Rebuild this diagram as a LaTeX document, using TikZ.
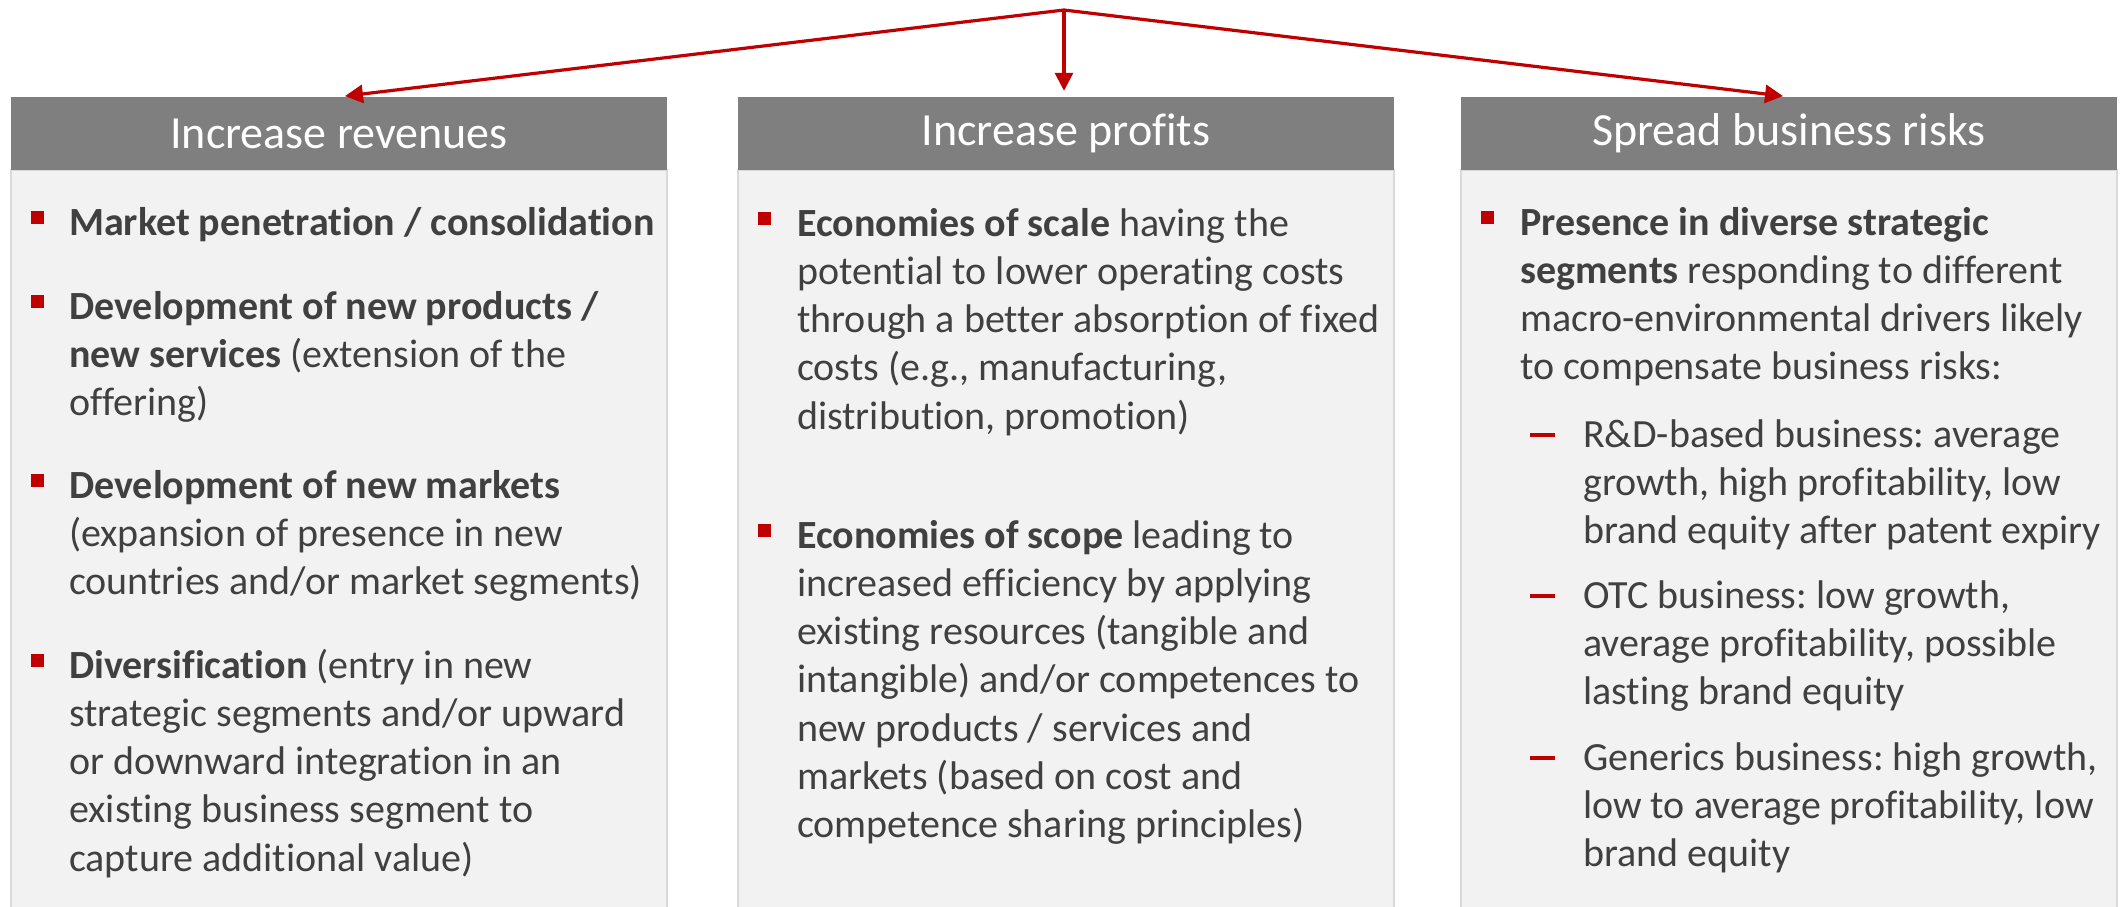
\documentclass[tikz,border=0pt]{standalone}
\usepackage{fontspec}
\setmainfont[Ligatures={NoCommon}]{Carlito}
\usetikzlibrary{arrows.meta}
\definecolor{hdgray}{HTML}{7F7F7F}
\definecolor{bodygray}{HTML}{F2F2F2}
\definecolor{linegray}{HTML}{D9D9D9}
\definecolor{txtgray}{HTML}{404040}
\definecolor{accred}{HTML}{C00000}
\newcommand{\boxtext}[1]{\parbox[t]{640pt}{\raggedright #1}}
\newcommand{\reddash}{\rule[10.5pt]{25pt}{3.5pt}}
\frenchspacing
\begin{document}
\begin{tikzpicture}[x=1pt,y=-1pt,
  header/.style={fill=hdgray,text=white,minimum width=656pt,minimum height=73pt,inner sep=0pt,font=\fontsize{46}{54}\selectfont},
  panel/.style={fill=bodygray,draw=linegray,line width=1.5pt},
  sq/.style={fill=accred,minimum size=13pt,inner sep=0pt},
  item/.style={anchor=base west,inner sep=0pt,text=txtgray,font=\fontsize{40}{48.3}\selectfont},
  arr/.style={draw=accred,line width=3.2pt,-{Triangle[length=18pt,width=18pt]},shorten >=6pt}]
\useasboundingbox (0,0) rectangle (2123,906);
\fill[white] (0,0) rectangle (2123,906);
% panels
\draw[panel] (11,170) rectangle (667,930);
\draw[panel] (738,170) rectangle (1394,930);
\draw[panel] (1461,170) rectangle (2117,930);
% headers
\node[header] (hrev) at (339,133.5) {Increase revenues};
\node[header] (hprof) at (1066,133.5) {Increase profits};
\node[header] (hrisk) at (1789,133.5) {Spread business risks};
% arrows
\coordinate (apex) at (1064,10);
\draw[arr] (apex) -- (hrev.north);
\draw[arr] (apex) -- ([xshift=-2pt]hprof.north);
\draw[arr] (apex) -- (hrisk.north);
% column 1
\node[sq] (b11) at (37.5,217.5) {};
\node[item] (t11) at (69,235) {\boxtext{\textbf{Market penetration / consolidation}}};
\node[sq] (b12) at (37.5,301.5) {};
\node[item] (t12) at (69,319) {\boxtext{\textbf{Development of new products /}\\
  \textbf{new services} (extension of the\\ offering)}};
\node[sq] (b13) at (37.5,480.5) {};
\node[item] (t13) at (69,498) {\boxtext{\textbf{Development of new markets}\\
  (expansion of presence in new\\ countries and/or market segments)}};
\node[sq] (b14) at (37.5,660.5) {};
\node[item] (t14) at (69,678) {\boxtext{\textbf{Diversification} (entry in new\\
  strategic segments and/or upward\\ or downward integration in an\\
  existing business segment to\\ capture additional value)}};
% column 2
\node[sq] (b21) at (764.5,218.5) {};
\node[item] (t21) at (797,236) {\boxtext{\textbf{Economies of scale} having the\\
  potential to lower operating costs\\ through a better absorption of fixed\\
  costs (e.g., manufacturing,\\ distribution, promotion)}};
\node[sq] (b22) at (764.5,530.5) {};
\node[item] (t22) at (797,548) {\boxtext{\textbf{Economies of scope} leading to\\
  increased efficiency by applying\\ existing resources (tangible and\\
  intangible) and/or competences to\\ new products / services and\\
  markets (based on cost and\\ competence sharing principles)}};
% column 3
\node[sq] (b31) at (1487.5,217.5) {};
\node[item] (t31) at (1520,235) {\boxtext{\textbf{Presence in diverse strategic}\\
  \textbf{segments} responding to different\\ macro-environmental drivers likely\\
  to compensate business risks:}};
\node[item,text=accred] (d31) at (1530,447) {\reddash};
\node[item] (s31) at (1583,447) {\boxtext{R\&D-based business: average\\
  growth, high profitability, low\\ brand equity after patent expiry}};
\node[item,text=accred] (d32) at (1530,608) {\reddash};
\node[item] (s32) at (1583,608) {\boxtext{OTC business: low growth,\\
  average profitability, possible\\ lasting brand equity}};
\node[item,text=accred] (d33) at (1530,770) {\reddash};
\node[item] (s33) at (1583,770) {\boxtext{Generics business: high growth,\\
  low to average profitability, low\\ brand equity}};
\end{tikzpicture}
\end{document}
